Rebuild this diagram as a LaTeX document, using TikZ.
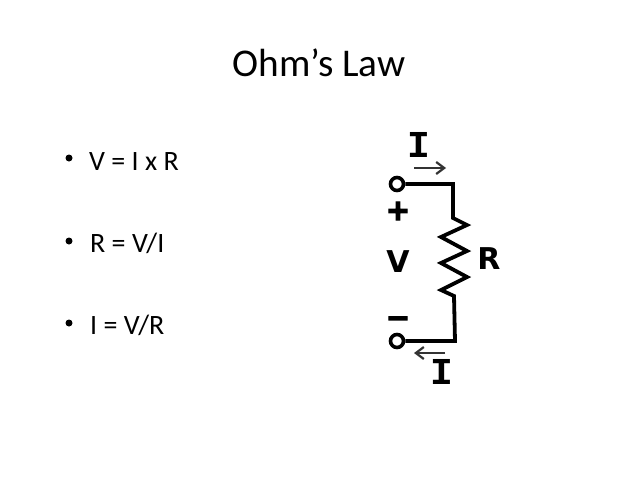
\documentclass[tikz,border=0pt]{standalone}
\usepackage{fontspec}
\setmainfont{Carlito}
\newfontfamily\symfont{DejaVu Sans}
\newfontfamily\signfont[FakeBold=4]{DejaVu Sans Bold}
\newfontfamily\monofont{Liberation Mono}
\usetikzlibrary{arrows.meta}
\tikzset{
  x=1pt,y=-1pt,
  slidetext/.style={inner sep=0pt,anchor=base west,font=\fontsize{28}{32}\selectfont,text=black},
  titletext/.style={inner sep=0pt,anchor=base,font=\fontsize{39.3}{44}\selectfont,text=black},
  bulletdot/.style={circle,fill=black,inner sep=0pt,minimum size=7pt},
  terminal/.style={circle,draw=black,line width=3.6pt,fill=white,inner sep=0pt,minimum size=13pt},
  wire/.style={draw=black,line width=3.8pt,line join=miter},
  currentarrow/.style={draw=black!80,line width=2.2pt,-{Straight Barb[length=8pt,width=12pt]}},
  symlabel/.style={inner sep=0pt,text=black,font=\symfont\bfseries\fontsize{30}{34}\selectfont},
  signlabel/.style={inner sep=0pt,text=black,font=\signfont\fontsize{29}{34}\selectfont},
  curlabel/.style={inner sep=0pt,text=black,font=\monofont\bfseries\fontsize{38}{42}\selectfont},
}
\begin{document}
\begin{tikzpicture}
\useasboundingbox[fill=white] (0,0) rectangle (638,479);
\node[titletext] (title) at (319,76) {Ohm’s Law};
\node[bulletdot] (b1) at (69,158) {};
\node[bulletdot] (b2) at (69,241) {};
\node[bulletdot] (b3) at (69,323) {};
\node[slidetext] (t1) at (89,170) {V = I x R};
\node[slidetext] (t2) at (90,252) {R = V/I};
\node[slidetext] (t3) at (90,334) {I = V/R};
\node[terminal] (top) at (397,184) {};
\node[terminal] (bot) at (397,341) {};
\coordinate (c1) at (453,184);
\coordinate (c2) at (455,341);
\draw[wire] (top) -- (c1) -- (453,218) -- (467,225) -- (441,237) -- (467,251) -- (441,263) -- (467,277) -- (441,290) -- (454,296) -- (c2) -- (bot);
\coordinate (a1) at (414,168);
\coordinate (a2) at (446,168);
\coordinate (a3) at (445,353);
\coordinate (a4) at (414,353);
\draw[currentarrow] (a1) -- (a2);
\draw[currentarrow] (a3) -- (a4);
\node[curlabel] (i1) at (419,145) {I};
\node[curlabel] (i2) at (442,372) {I};
\node[signlabel] (plus) at (398,211) {+};
\node[symlabel] (v) at (398,262) {V};
\node[symlabel] (r) at (489,259) {R};
\node[signlabel] (minus) at (398,322) {−};
\end{tikzpicture}
\end{document}
